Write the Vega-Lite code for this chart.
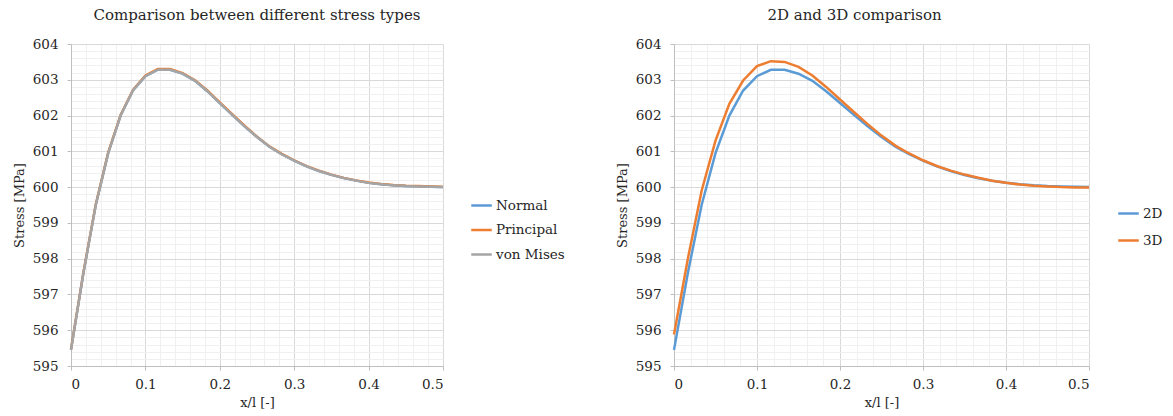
{
  "$schema": "https://vega.github.io/schema/vega-lite/v6.json",
  "background": "white",
  "padding": {"left": 13, "top": 8, "right": 5, "bottom": 5},
  "spacing": 51,
  "resolve": {"scale": {"color": "independent"}, "legend": {"color": "independent"}},
  "config": {
    "font": "DejaVu Serif",
    "view": {"stroke": null},
    "axis": {
      "labelFont": "DejaVu Serif",
      "labelFontSize": 13.5,
      "labelColor": "#262626",
      "titleFont": "DejaVu Serif",
      "titleFontSize": 13,
      "titleFontWeight": "normal",
      "titleColor": "#262626",
      "domainColor": "#bfbfbf",
      "tickColor": "#bfbfbf",
      "gridColor": "#d9d9d9",
      "gridWidth": 1
    },
    "title": {"font": "DejaVu Serif", "fontSize": 15, "fontWeight": "normal", "color": "#262626"},
    "legend": {
      "title": null,
      "symbolType": "stroke",
      "symbolStrokeWidth": 2.5,
      "symbolSize": 420,
      "labelFont": "DejaVu Serif",
      "labelFontSize": 13.5,
      "labelColor": "#262626",
      "labelOffset": 3,
      "rowPadding": 6.5
    }
  },
  "datasets": {
    "stress": [
      {"x": 0, "Normal": 595.45, "Principal": 595.47, "von Mises": 595.45},
      {"x": 0.0167, "Normal": 597.6, "Principal": 597.62, "von Mises": 597.6},
      {"x": 0.0333, "Normal": 599.5, "Principal": 599.52, "von Mises": 599.5},
      {"x": 0.05, "Normal": 600.95, "Principal": 600.97, "von Mises": 600.95},
      {"x": 0.0667, "Normal": 602.0, "Principal": 602.02, "von Mises": 602.0},
      {"x": 0.0833, "Normal": 602.7, "Principal": 602.72, "von Mises": 602.7},
      {"x": 0.1, "Normal": 603.1, "Principal": 603.12, "von Mises": 603.1},
      {"x": 0.1167, "Normal": 603.28, "Principal": 603.3, "von Mises": 603.28},
      {"x": 0.1333, "Normal": 603.28, "Principal": 603.3, "von Mises": 603.28},
      {"x": 0.15, "Normal": 603.17, "Principal": 603.19, "von Mises": 603.17},
      {"x": 0.1667, "Normal": 602.97, "Principal": 602.99, "von Mises": 602.97},
      {"x": 0.1833, "Normal": 602.68, "Principal": 602.7, "von Mises": 602.68},
      {"x": 0.2, "Normal": 602.35, "Principal": 602.37, "von Mises": 602.35},
      {"x": 0.2167, "Normal": 602.02, "Principal": 602.04, "von Mises": 602.02},
      {"x": 0.2333, "Normal": 601.7, "Principal": 601.72, "von Mises": 601.7},
      {"x": 0.25, "Normal": 601.4, "Principal": 601.41, "von Mises": 601.4},
      {"x": 0.2667, "Normal": 601.13, "Principal": 601.14, "von Mises": 601.13},
      {"x": 0.2833, "Normal": 600.92, "Principal": 600.93, "von Mises": 600.92},
      {"x": 0.3, "Normal": 600.74, "Principal": 600.75, "von Mises": 600.74},
      {"x": 0.3167, "Normal": 600.58, "Principal": 600.59, "von Mises": 600.58},
      {"x": 0.3333, "Normal": 600.45, "Principal": 600.46, "von Mises": 600.45},
      {"x": 0.35, "Normal": 600.34, "Principal": 600.35, "von Mises": 600.34},
      {"x": 0.3667, "Normal": 600.25, "Principal": 600.26, "von Mises": 600.25},
      {"x": 0.3833, "Normal": 600.18, "Principal": 600.19, "von Mises": 600.18},
      {"x": 0.4, "Normal": 600.12, "Principal": 600.13, "von Mises": 600.12},
      {"x": 0.4167, "Normal": 600.08, "Principal": 600.09, "von Mises": 600.08},
      {"x": 0.4333, "Normal": 600.05, "Principal": 600.06, "von Mises": 600.05},
      {"x": 0.45, "Normal": 600.03, "Principal": 600.04, "von Mises": 600.03},
      {"x": 0.4667, "Normal": 600.02, "Principal": 600.03, "von Mises": 600.02},
      {"x": 0.4833, "Normal": 600.01, "Principal": 600.02, "von Mises": 600.01},
      {"x": 0.5, "Normal": 600.0, "Principal": 600.01, "von Mises": 600.0}
    ],
    "dims": [
      {"x": 0, "2D": 595.45, "3D": 595.88},
      {"x": 0.0167, "2D": 597.6, "3D": 598.0},
      {"x": 0.0333, "2D": 599.5, "3D": 599.9},
      {"x": 0.05, "2D": 600.95, "3D": 601.3},
      {"x": 0.0667, "2D": 602.0, "3D": 602.33},
      {"x": 0.0833, "2D": 602.7, "3D": 602.98},
      {"x": 0.1, "2D": 603.1, "3D": 603.38},
      {"x": 0.1167, "2D": 603.28, "3D": 603.52},
      {"x": 0.1333, "2D": 603.28, "3D": 603.5},
      {"x": 0.15, "2D": 603.17, "3D": 603.36},
      {"x": 0.1667, "2D": 602.97, "3D": 603.12},
      {"x": 0.1833, "2D": 602.68, "3D": 602.8},
      {"x": 0.2, "2D": 602.35, "3D": 602.45},
      {"x": 0.2167, "2D": 602.02, "3D": 602.1},
      {"x": 0.2333, "2D": 601.7, "3D": 601.76},
      {"x": 0.25, "2D": 601.4, "3D": 601.44},
      {"x": 0.2667, "2D": 601.13, "3D": 601.16},
      {"x": 0.2833, "2D": 600.92, "3D": 600.94},
      {"x": 0.3, "2D": 600.74, "3D": 600.75},
      {"x": 0.3167, "2D": 600.58, "3D": 600.59},
      {"x": 0.3333, "2D": 600.45, "3D": 600.46},
      {"x": 0.35, "2D": 600.34, "3D": 600.35},
      {"x": 0.3667, "2D": 600.25, "3D": 600.26},
      {"x": 0.3833, "2D": 600.18, "3D": 600.18},
      {"x": 0.4, "2D": 600.12, "3D": 600.12},
      {"x": 0.4167, "2D": 600.08, "3D": 600.07},
      {"x": 0.4333, "2D": 600.05, "3D": 600.04},
      {"x": 0.45, "2D": 600.03, "3D": 600.02},
      {"x": 0.4667, "2D": 600.02, "3D": 600.0},
      {"x": 0.4833, "2D": 600.01, "3D": 599.99},
      {"x": 0.5, "2D": 600.0, "3D": 599.99}
    ]
  },
  "hconcat": [
    {
      "title": {"text": "Comparison between different stress types", "anchor": "middle", "offset": 14},
      "width": 372,
      "height": 322,
      "data": {"name": "stress"},
      "transform": [{"fold": ["Normal", "Principal", "von Mises"], "as": ["type", "stress"]}],
      "resolve": {"axis": {"x": "independent", "y": "independent"}},
      "layer": [
        {
          "mark": {"type": "line", "opacity": 0},
          "encoding": {
            "x": {"field": "x", "type": "quantitative", "scale": {"domain": [0, 0.5], "nice": false},
              "axis": {"orient": "bottom", "values": [0.02,0.04,0.06,0.08,0.12,0.14,0.16,0.18,0.22,0.24,0.26,0.28,0.32,0.34,0.36,0.38,0.42,0.44,0.46,0.48], "grid": true, "gridColor": "#f0f0f0", "labels": false, "ticks": false, "domain": false, "title": null}},
            "y": {"field": "stress", "type": "quantitative", "scale": {"domain": [595, 604], "nice": false, "zero": false},
              "axis": {"orient": "left", "values": [595.2,595.4,595.6,595.8,596.2,596.4,596.6,596.8,597.2,597.4,597.6,597.8,598.2,598.4,598.6,598.8,599.2,599.4,599.6,599.8,600.2,600.4,600.6,600.8,601.2,601.4,601.6,601.8,602.2,602.4,602.6,602.8,603.2,603.4,603.6,603.8], "grid": true, "gridColor": "#f0f0f0", "labels": false, "ticks": false, "domain": false, "title": null}}
          }
        },
        {
          "mark": {"type": "line", "strokeWidth": 2.4},
          "encoding": {
            "x": {"field": "x", "type": "quantitative", "scale": {"domain": [0, 0.5], "nice": false},
              "axis": {"orient": "bottom", "values": [0, 0.1, 0.2, 0.3, 0.4, 0.5], "format": "~g", "grid": true, "tickSize": 4, "labelPadding": 7, "title": "x/l [-]", "titlePadding": 6}},
            "y": {"field": "stress", "type": "quantitative", "scale": {"domain": [595, 604], "nice": false, "zero": false},
              "axis": {"orient": "left", "values": [595,596,597,598,599,600,601,602,603,604], "format": "d", "grid": true, "tickSize": 4, "labelPadding": 9, "title": "Stress [MPa]", "titlePadding": 6}},
            "color": {"field": "type", "type": "nominal",
              "scale": {"domain": ["Normal", "Principal", "von Mises"], "range": ["#5B9BD5", "#ED7D31", "#A5A5A5"]},
              "legend": {"orient": "none", "legendX": 399, "legendY": 150}}
          }
        }
      ]
    },
    {
      "title": {"text": "2D and 3D comparison", "anchor": "middle", "offset": 14, "dx": -27},
      "width": 415,
      "height": 322,
      "data": {"name": "dims"},
      "transform": [{"fold": ["2D", "3D"], "as": ["model", "stress"]}],
      "resolve": {"axis": {"x": "independent", "y": "independent"}},
      "layer": [
        {
          "mark": {"type": "line", "opacity": 0},
          "encoding": {
            "x": {"field": "x", "type": "quantitative", "scale": {"domain": [0, 0.5], "nice": false},
              "axis": {"orient": "bottom", "values": [0.02,0.04,0.06,0.08,0.12,0.14,0.16,0.18,0.22,0.24,0.26,0.28,0.32,0.34,0.36,0.38,0.42,0.44,0.46,0.48], "grid": true, "gridColor": "#f0f0f0", "labels": false, "ticks": false, "domain": false, "title": null}},
            "y": {"field": "stress", "type": "quantitative", "scale": {"domain": [595, 604], "nice": false, "zero": false},
              "axis": {"orient": "left", "values": [595.2,595.4,595.6,595.8,596.2,596.4,596.6,596.8,597.2,597.4,597.6,597.8,598.2,598.4,598.6,598.8,599.2,599.4,599.6,599.8,600.2,600.4,600.6,600.8,601.2,601.4,601.6,601.8,602.2,602.4,602.6,602.8,603.2,603.4,603.6,603.8], "grid": true, "gridColor": "#f0f0f0", "labels": false, "ticks": false, "domain": false, "title": null}}
          }
        },
        {
          "mark": {"type": "line", "strokeWidth": 2.5},
          "encoding": {
            "x": {"field": "x", "type": "quantitative", "scale": {"domain": [0, 0.5], "nice": false},
              "axis": {"orient": "bottom", "values": [0, 0.1, 0.2, 0.3, 0.4, 0.5], "format": "~g", "grid": true, "tickSize": 4, "labelPadding": 7, "title": "x/l [-]", "titlePadding": 6}},
            "y": {"field": "stress", "type": "quantitative", "scale": {"domain": [595, 604], "nice": false, "zero": false},
              "axis": {"orient": "left", "values": [595,596,597,598,599,600,601,602,603,604], "format": "d", "grid": true, "tickSize": 4, "labelPadding": 9, "title": "Stress [MPa]", "titlePadding": 6}},
            "color": {"field": "model", "type": "nominal",
              "scale": {"domain": ["2D", "3D"], "range": ["#5B9BD5", "#ED7D31"]},
              "legend": {"orient": "none", "legendX": 443, "legendY": 158, "rowPadding": 9}}
          }
        }
      ]
    }
  ]
}
